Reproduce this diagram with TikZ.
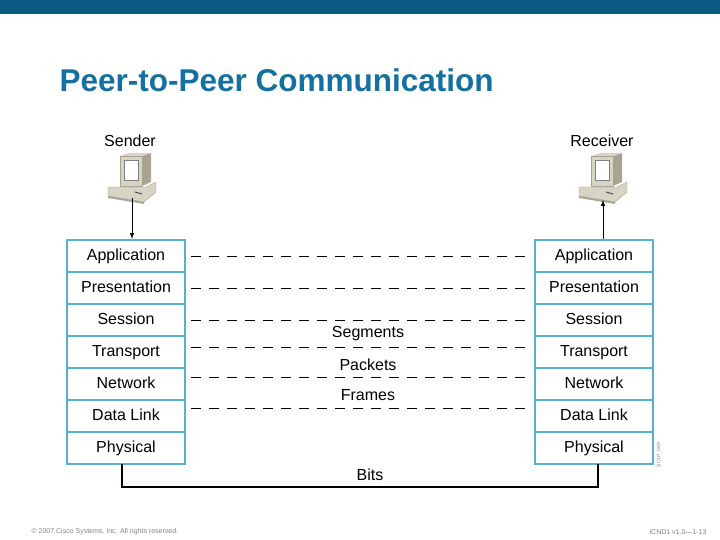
\documentclass[tikz,border=0pt]{standalone}
\usepackage{fontspec}
\setmainfont{Liberation Sans}
\begin{document}
\begin{tikzpicture}[x=1pt,y=-1pt,
  layer/.style={draw=lay,line width=2.2pt,fill=white,minimum width=118pt,minimum height=32pt,inner sep=0pt,text height=11pt,text depth=3pt,font=\fontsize{16}{18}\selectfont},
  dl/.style={dash pattern=on 10pt off 8pt,line width=1pt},
  lbl/.style={font=\fontsize{16}{18}\selectfont,inner sep=1pt}]
\definecolor{bar}{HTML}{0A5A82}
\definecolor{ttl}{HTML}{1470A0}
\definecolor{lay}{HTML}{5AB0D4}
\definecolor{beige}{HTML}{D8D4C4}
\definecolor{beigeD}{HTML}{A8A494}
\useasboundingbox (0,0) rectangle (720,540);
\fill[bar] (0,0) rectangle (720,14);
\node[anchor=west,text=ttl,font=\fontsize{31.5}{34}\selectfont\bfseries] (title) at (56,80) {Peer-to-Peer Communication};
\foreach \n/\t [count=\i from 0] in {app/Application,pre/Presentation,ses/Session,tra/Transport,net/Network,dl/Data Link,phy/Physical}{
  \node[layer] (L\n) at (126,{256+32*\i}) {\t};
  \node[layer] (R\n) at (594,{256+32*\i}) {\t};
}
\draw[dl] (191,256) -- (530,256);
\draw[dl,line width=0.7pt] (191,288) -- (530,288);
\draw[dl] (191,320) -- (530,320);
\draw[dl] (191,347) -- (530,347);
\draw[dl] (191,377) -- (530,377);
\draw[dl] (191,408) -- (530,408);
\node[lbl,fill=white] (seg) at (368,334) {Segments};
\node[lbl,fill=white] (pkt) at (368,365) {Packets};
\node[lbl,fill=white] (frm) at (368,395) {Frames};
\node[lbl] (snd) at (130,141) {Sender};
\node[lbl] (rcv) at (602,141) {Receiver};
% computers
\foreach \cx/\nm in {132/cs,603/cr}{
  \begin{scope}[shift={(\cx,0)}]
  \fill[beige,draw=beigeD] (-12,156) rectangle (10,186);
  \fill[white,draw=gray] (-8,160) rectangle (6,180);
  \fill[beigeD] (10,156) -- (19,153) -- (19,182) -- (10,186) -- cycle;
  \fill[beige] (-12,156) -- (-3,153) -- (19,153) -- (10,156) -- cycle;
  \fill[beige,draw=beigeD] (-24,187) -- (14,187) -- (24,182) -- (24,192) -- (12,202) -- (-24,196) -- cycle;
  \fill[beigeD] (-24,196) -- (12,202) -- (12,204) -- (-24,198) -- cycle;
  \draw[gray!60!black,line width=1pt] (3,192) -- (10,194);
  \end{scope}
}
\coordinate (cs) at (132,198);
\coordinate (cr) at (603,200);
\draw[-latex,line width=1pt] (cs) -- (cs |- Lapp.north);
\draw[-latex,line width=1pt] (cr |- Rapp.north) -- (cr);
\draw[line width=1.5pt] (122,464) |- (598,487) -- (598,464);
\node[lbl] (bits) at (370,475) {Bits};
\node[rotate=90,font=\fontsize{5}{5}\selectfont,text=gray] (code) at (659,455) {SC1P\_069};
\node[anchor=west,font=\fontsize{7}{8}\selectfont,text=gray] (copy) at (28,532) {© 2007 Cisco Systems, Inc. All rights reserved.};
\node[anchor=east,font=\fontsize{7}{8}\selectfont,text=gray] (pg) at (710,532) {ICND1 v1.0—1-13};
\end{tikzpicture}
\end{document}
